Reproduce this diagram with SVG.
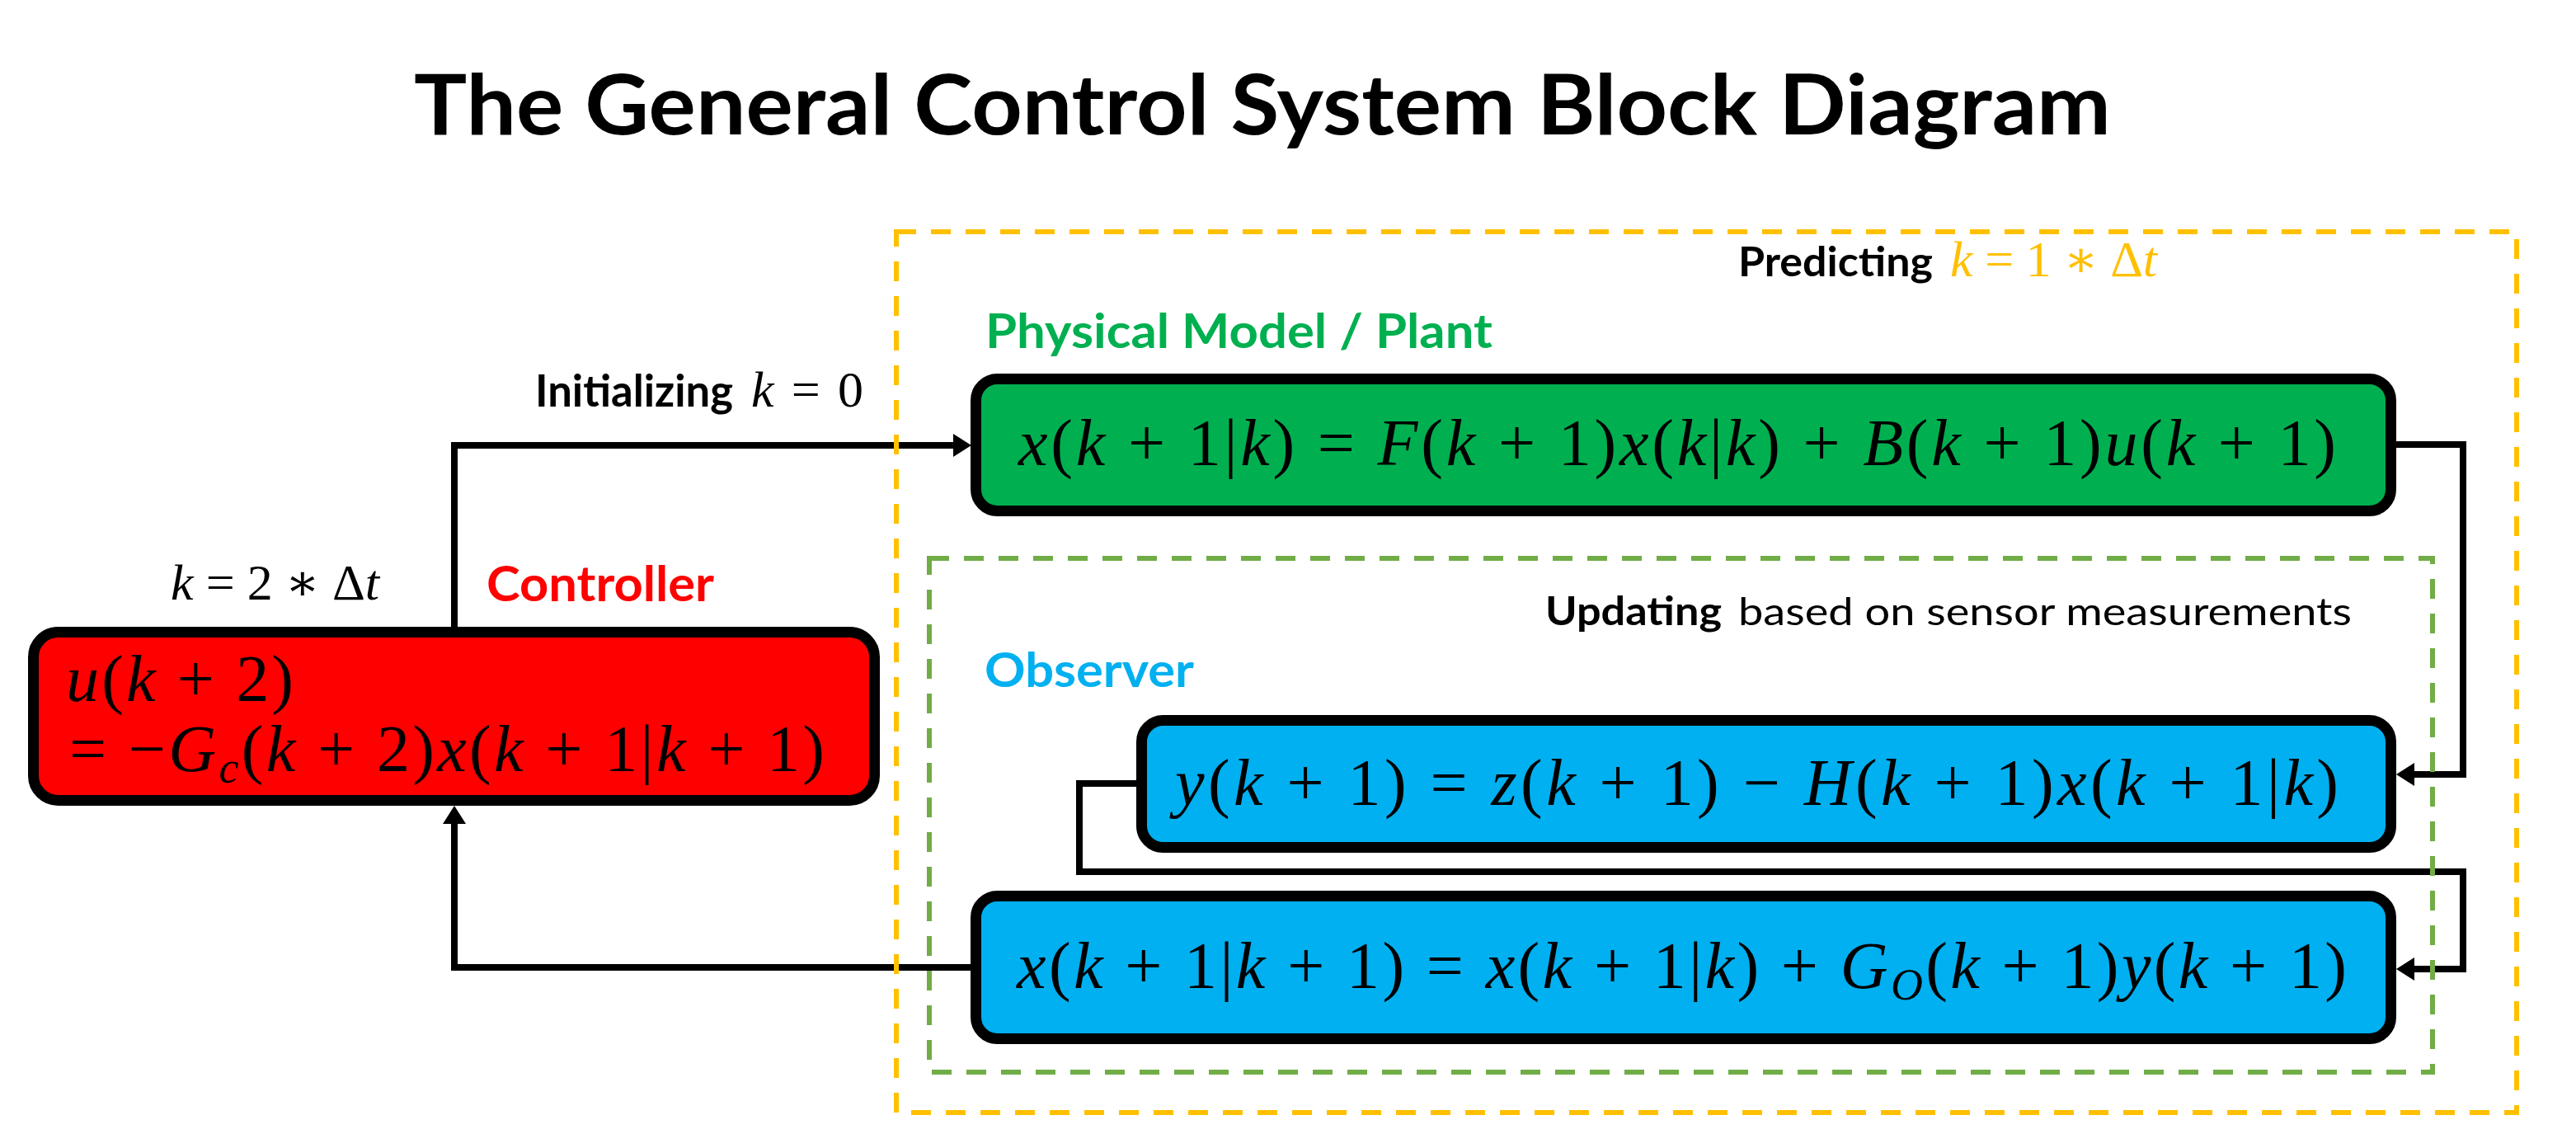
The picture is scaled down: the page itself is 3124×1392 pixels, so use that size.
<svg xmlns="http://www.w3.org/2000/svg" width="3124" height="1392" viewBox="0 0 3124 1392">
<style>
.sans { font-family: Lato, "Open Sans", "Liberation Sans", sans-serif; }
.b { font-weight: bold; }
.m { font-family: "Liberation Serif", "DejaVu Serif", serif; }
.i { font-style: italic; }
.conn { fill: none; stroke: #000; stroke-width: 8; stroke-linejoin: miter; }
.node { stroke: #000; stroke-width: 13; }
.dash { fill: none; stroke-width: 6; stroke-dasharray: 24 18; }
</style>
<defs>
<marker id="arr" markerUnits="userSpaceOnUse" markerWidth="22" markerHeight="28" refX="0" refY="14" orient="auto" overflow="visible">
<path d="M0,0 L22,14 L0,28 Z" fill="#000"/>
</marker>
</defs>
<rect width="3124" height="1392" fill="#fff"/>
<text class="sans b" x="502" y="163" font-size="102" textLength="2058" lengthAdjust="spacingAndGlyphs">The General Control System Block Diagram</text>

<g id="connectors">
<path class="conn" d="M551,770 V540 H1156" marker-end="url(#arr)"/>
<path class="conn" d="M2900,539 H2987 V939 H2928" marker-end="url(#arr)"/>
<path class="conn" d="M1385,950 H1309 V1057 H2987 V1175 H2928" marker-end="url(#arr)"/>
<path class="conn" d="M1180,1173 H551 V999" marker-end="url(#arr)"/>
</g>

<g id="predicting-region">
<rect class="dash" x="1087" y="281" width="1965" height="1068" stroke="#FFC000"/>
<text class="sans b" x="2108" y="335" font-size="50" textLength="236" lengthAdjust="spacingAndGlyphs">Predicting</text>
<text class="m" x="2365" y="335" font-size="62" fill="#FFC000" textLength="251" lengthAdjust="spacing"><tspan class="i">k</tspan> = 1 ∗ Δ<tspan class="i">t</tspan></text>
</g>

<g id="observer-region">
<rect class="dash" x="1127" y="677" width="1823" height="623" stroke="#70AD47"/>
<text class="sans b" x="1874" y="758" font-size="47" textLength="214" lengthAdjust="spacingAndGlyphs">Updating</text>
<text class="sans" x="2108" y="758" font-size="47" textLength="744" lengthAdjust="spacingAndGlyphs">based on sensor measurements</text>
<text class="sans b" x="1194" y="833" font-size="57" fill="#00B0F0" textLength="254" lengthAdjust="spacingAndGlyphs">Observer</text>
</g>

<g id="plant">
<text class="sans b" x="1195" y="422" font-size="57" fill="#00B050" textLength="615" lengthAdjust="spacingAndGlyphs">Physical Model / Plant</text>
<rect class="node" x="1183.5" y="459.5" width="1716" height="160" rx="26" fill="#00B050"/>
<text class="m" x="1235" y="564" font-size="80" textLength="1598" lengthAdjust="spacing"><tspan class="i">x</tspan>(<tspan class="i">k</tspan> + 1|<tspan class="i">k</tspan>) = <tspan class="i">F</tspan>(<tspan class="i">k</tspan> + 1)<tspan class="i">x</tspan>(<tspan class="i">k</tspan>|<tspan class="i">k</tspan>) + <tspan class="i">B</tspan>(<tspan class="i">k</tspan> + 1)<tspan class="i">u</tspan>(<tspan class="i">k</tspan> + 1)</text>
</g>

<g id="innovation">
<rect class="node" x="1384.5" y="873.5" width="1515" height="154" rx="26" fill="#00B0F0"/>
<text class="m" x="1425" y="976" font-size="80" textLength="1411" lengthAdjust="spacing"><tspan class="i">y</tspan>(<tspan class="i">k</tspan> + 1)  =  <tspan class="i">z</tspan>(<tspan class="i">k</tspan> + 1) − <tspan class="i">H</tspan>(<tspan class="i">k</tspan> + 1)<tspan class="i">x</tspan>(<tspan class="i">k</tspan> + 1|<tspan class="i">k</tspan>)</text>
</g>

<g id="update">
<rect class="node" x="1183.5" y="1086.5" width="1716" height="173" rx="26" fill="#00B0F0"/>
<text class="m" x="1233" y="1198" font-size="80" textLength="1613" lengthAdjust="spacing"><tspan class="i">x</tspan>(<tspan class="i">k</tspan> + 1|<tspan class="i">k</tspan> + 1) = <tspan class="i">x</tspan>(<tspan class="i">k</tspan> + 1|<tspan class="i">k</tspan>) + <tspan class="i">G</tspan><tspan class="i" font-size="54" dy="14">O</tspan><tspan dy="-14">(</tspan><tspan class="i">k</tspan> + 1)<tspan class="i">y</tspan>(<tspan class="i">k</tspan> + 1)</text>
</g>

<g id="controller">
<text class="m" x="207" y="727" font-size="62" textLength="253" lengthAdjust="spacing"><tspan class="i">k</tspan> = 2 ∗ Δ<tspan class="i">t</tspan></text>
<text class="sans b" x="590" y="729" font-size="60" fill="#FF0000" textLength="276" lengthAdjust="spacingAndGlyphs">Controller</text>
<rect class="node" x="40.5" y="766.5" width="1020" height="204" rx="30" fill="#FF0000"/>
<text class="m" x="80" y="850" font-size="80" textLength="276" lengthAdjust="spacing"><tspan class="i">u</tspan>(<tspan class="i">k</tspan> + 2)</text>
<text class="m" x="84" y="935" font-size="80" textLength="916" lengthAdjust="spacing">= −<tspan class="i">G</tspan><tspan class="i" font-size="54" dy="14">c</tspan><tspan dy="-14">(</tspan><tspan class="i">k</tspan> + 2)<tspan class="i">x</tspan>(<tspan class="i">k</tspan> + 1|<tspan class="i">k</tspan> + 1)</text>
</g>

<g id="init-label">
<text class="sans b" x="649" y="493" font-size="53" textLength="240" lengthAdjust="spacingAndGlyphs">Initializing</text>
<text class="m" x="911" y="493" font-size="62" textLength="136" lengthAdjust="spacing"><tspan class="i">k</tspan> = 0</text>
</g>
</svg>
